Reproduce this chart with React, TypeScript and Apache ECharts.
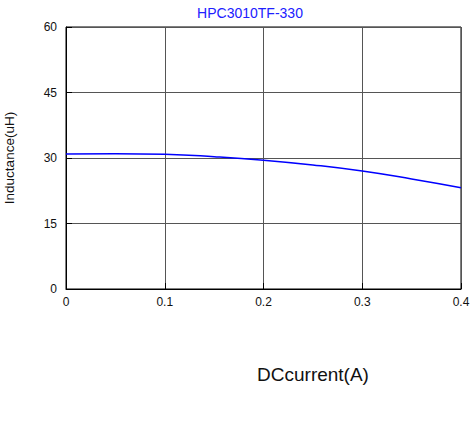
import React, { useEffect, useRef } from "react";
import * as echarts from "echarts";

const titleText = "HPC3010TF-330";
const xLabel = "DCcurrent(A)";
const yLabel = "Inductance(uH)";
const currents = [0, 0.05, 0.1, 0.15, 0.2, 0.25, 0.3, 0.35, 0.4];
const inductance = [30.9, 31.0, 30.85, 30.3, 29.5, 28.4, 27.0, 25.2, 23.2];

export default function App() {
  const ref = useRef<HTMLDivElement>(null);
  useEffect(() => {
    if (!ref.current) return;
    const chart = echarts.init(ref.current, null, { renderer: "svg" });
    const font = "Arial, 'Liberation Sans', sans-serif";
    chart.setOption({
      animation: false,
      grid: {
        left: 66,
        right: 11,
        top: 27,
        bottom: 132,
        containLabel: false,
        outerBoundsMode: "none",
        show: true,
        borderColor: "#000",
        borderWidth: 1,
      },
      xAxis: {
        type: "value",
        min: 0,
        max: 0.4,
        interval: 0.1,
        axisLine: { show: true, lineStyle: { color: "#000", width: 1 } },
        axisTick: { show: true, inside: true, length: 6, lineStyle: { color: "#000" } },
        splitLine: { show: true, lineStyle: { color: "#555", width: 1 } },
        axisLabel: { color: "#111", fontSize: 12, fontFamily: font, margin: 7 },
      },
      yAxis: {
        type: "value",
        min: 0,
        max: 60,
        interval: 15,
        name: yLabel,
        nameLocation: "middle",
        nameGap: 50,
        nameTextStyle: { color: "#111", fontSize: 13.5, fontFamily: font },
        axisLine: { show: true, lineStyle: { color: "#000", width: 1 } },
        axisTick: { show: true, inside: true, length: 6, lineStyle: { color: "#000" } },
        splitLine: { show: true, lineStyle: { color: "#555", width: 1 } },
        axisLabel: { color: "#111", fontSize: 12, fontFamily: font, margin: 9 },
      },
      series: [
        {
          type: "line",
          data: currents.map((c, i) => [c, inductance[i]]),
          smooth: 0.5,
          showSymbol: false,
          lineStyle: { color: "#0000ff", width: 1.5 },
        },
      ],
      graphic: [
        {
          type: "text",
          x: 250,
          y: 13,
          style: {
            text: titleText,
            fill: "#2020ff",
            fontSize: 14,
            fontFamily: font,
            textAlign: "center",
            textVerticalAlign: "middle",
          },
        },
        {
          type: "text",
          x: 313,
          y: 374,
          style: {
            text: xLabel,
            fill: "#111",
            fontSize: 19,
            fontFamily: font,
            textAlign: "center",
            textVerticalAlign: "middle",
          },
        },
      ],
    });
    return () => chart.dispose();
  }, []);
  return <div ref={ref} style={{ width: 472, height: 421, position: "absolute", left: 0, top: 0 }} />;
}
